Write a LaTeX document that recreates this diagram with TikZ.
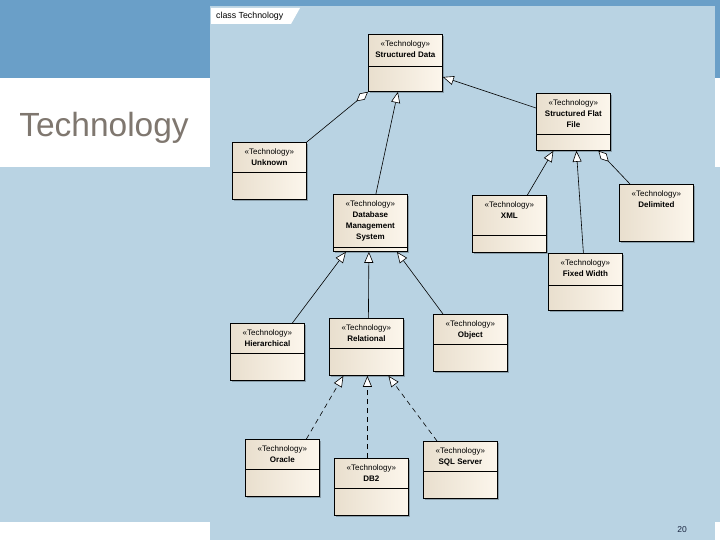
\documentclass[tikz,border=0pt]{standalone}
\usepackage{fontspec}
\setmainfont{Liberation Sans}
\usetikzlibrary{arrows.meta,shadows}
\definecolor{slideblue}{HTML}{6A9FC8}
\definecolor{panelblue}{HTML}{B9D3E3}
\definecolor{titlegray}{HTML}{7F776F}
\definecolor{creamL}{HTML}{E9DFCE}
\definecolor{creamR}{HTML}{FCF6EC}
\definecolor{pagenumcol}{HTML}{1A2540}

\begin{document}
\begin{tikzpicture}[x=1pt, y=-1pt,
    classbox/.style={draw, line width=0.8pt, minimum width=74pt, minimum height=57pt, inner sep=0pt, anchor=north west, left color=creamL, right color=creamR, drop shadow={shadow xshift=2pt, shadow yshift=-2pt, fill=black, opacity=0.25}},
    classtext/.style={anchor=north, align=center, inner sep=0pt, font=\fontsize{8}{11}\selectfont\bfseries},
    gen/.style={-{Triangle[open, fill=white, length=11pt, width=9pt]}, line width=0.6pt},
    realize/.style={gen, dash pattern=on 5pt off 4pt},
    agg/.style={-{Diamond[open, fill=white, length=15pt, width=8pt]}, line width=0.6pt}]
    \useasboundingbox (0,0) rectangle (720,540);
    % Slide background
    \fill[panelblue] (0,0) rectangle (720,540);
    \fill[slideblue] (0,0) rectangle (720,78);
    \fill[white] (0,78) rectangle (720,167);
    \fill[white] (0,522) rectangle (720,540);
    \fill[panelblue] (210,6) rectangle (715,540);
    \node[anchor=base, text=titlegray, font=\fontsize{33.5}{38}\selectfont] (title) at (104,137) {Technology};
    \node[text=pagenumcol, font=\fontsize{8.5}{10}\selectfont] (pagenum) at (682,530) {20};
    % Diagram frame tab
    \fill[white] (211,8) -- (300,8) -- (291,24) -- (211,24) -- cycle;
    \node[anchor=west, inner sep=0pt, font=\fontsize{8.8}{10}\selectfont] (tab) at (216,16) {class Technology};
    % Classes
    \foreach \nm/\x/\y/\d/\txt in {sd/368/34/66/Structured Data,
        sff/536/93/134/{Structured Flat\\File},
        unk/232/142/172/Unknown,
        dbms/333/194/247/{Database\\Management\\System},
        xml/472/195/235/XML,
        fw/548/253/285/Fixed Width,
        hier/230/323/353/Hierarchical,
        rel/329/318/348/Relational,
        obj/433/314/344/Object,
        ora/245/439/469/Oracle,
        db2/334/458/488/DB2,
        sql/423/441/471/SQL Server} {
        \node[classbox] (\nm) at (\x,\y) {};
        \node[classtext] (\nm-t) at ([yshift=-6.5pt]\nm.north) {{\mdseries «Technology»}\\\txt};
        \draw[line width=0.8pt] (\nm.west |- 0,\d) -- (\nm.east |- 0,\d);
    }
    \node[classbox] (del) at (619,184) {};
    \node[classtext] (del-t) at ([yshift=-6.5pt]del.north) {{\mdseries «Technology»}\\Delimited};
    % Generalizations and aggregations
    \draw[agg] (unk.north east) -- (sd.south west);
    \draw[gen] ([xshift=5.5pt]dbms.north) -- ([xshift=-7.5pt]sd.south);
    \draw[gen] ([yshift=-15pt]sff.north west) -- ([yshift=-43pt]sd.north east);
    \draw[gen] ([xshift=18pt]xml.north) -- ([xshift=-20pt]sff.south);
    \draw[gen] ([xshift=-2pt]fw.north) -- ([xshift=3pt]sff.south);
    \draw[agg] ([xshift=11pt]del.north west) -- ([xshift=25pt]sff.south);
    \draw[gen] ([xshift=25pt]hier.north) -- ([xshift=-24.5pt]dbms.south);
    \draw[gen] ([xshift=2pt]rel.north) -- ([xshift=-1.5pt]dbms.south);
    \draw[gen] ([xshift=10pt]obj.north west) -- ([xshift=26.5pt]dbms.south);
    % Realizations
    \draw[realize] ([xshift=24pt]ora.north) -- ([xshift=-23pt]rel.south);
    \draw[realize] ([xshift=-4pt]db2.north) -- ([xshift=1pt]rel.south);
    \draw[realize] ([xshift=14pt]sql.north west) -- ([xshift=22pt]rel.south);
\end{tikzpicture}
\end{document}
